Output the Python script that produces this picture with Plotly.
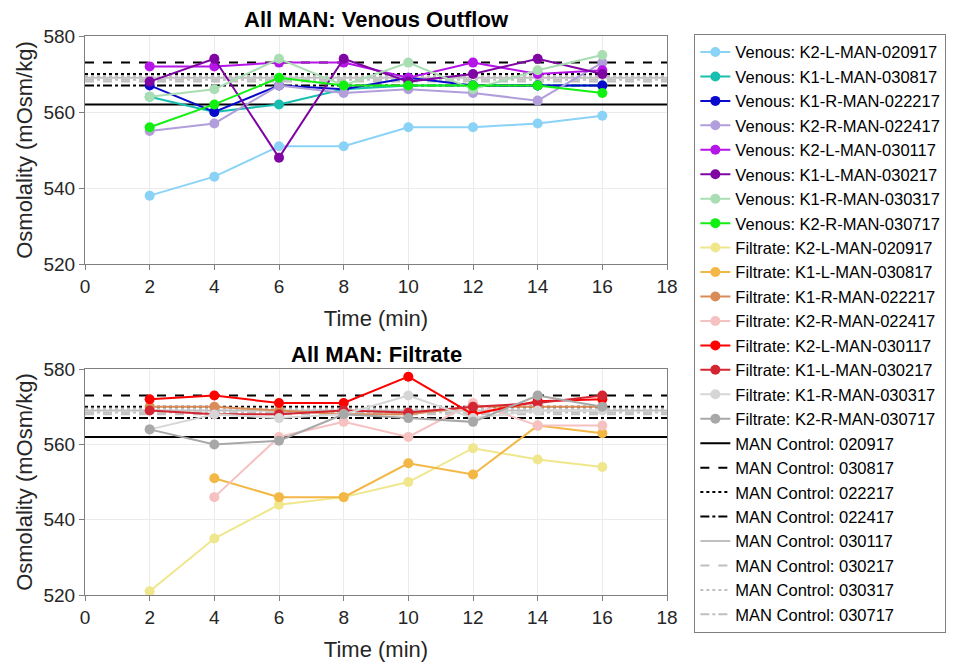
import plotly.graph_objects as go
from plotly.subplots import make_subplots

time = [2, 4, 6, 8, 10, 12, 14, 16]

venous_names = ["Venous: K2-L-MAN-020917", "Venous: K1-L-MAN-030817", "Venous: K1-R-MAN-022217",
                "Venous: K2-R-MAN-022417", "Venous: K2-L-MAN-030117", "Venous: K1-L-MAN-030217",
                "Venous: K1-R-MAN-030317", "Venous: K2-R-MAN-030717"]
venous_values = [
    [538, 543, 551, 551, 556, 556, 557, 559],
    [564, 560, 562, 566, 567, 567, 567, 567],
    [567, 560, 567, 566, 569, 567, 567, 567],
    [555, 557, 567, 565, 566, 565, 563, 573],
    [572, 572, 573, 573, 569, 573, 570, 571],
    [568, 574, 548, 574, 568, 570, 574, 570],
    [564, 566, 574, 567, 573, 566, 571, 575],
    [556, 562, 569, 567, 567, 567, 567, 565],
]
venous_colors = ["#8AD3F7", "#17BFAF", "#0A0ACD", "#B19EDB", "#B515E6", "#7F06A3", "#A9DDB2", "#12F012"]

filtrate_names = ["Filtrate: K2-L-MAN-020917", "Filtrate: K1-L-MAN-030817", "Filtrate: K1-R-MAN-022217",
                  "Filtrate: K2-R-MAN-022417", "Filtrate: K2-L-MAN-030117", "Filtrate: K1-L-MAN-030217",
                  "Filtrate: K1-R-MAN-030317", "Filtrate: K2-R-MAN-030717"]
filtrate_values = [
    [521, 535, 544, 546, 550, 559, 556, 554],
    [None, 551, 546, 546, 555, 552, 565, 563],
    [570, 570, 569, 568, 568, 570, 570, 570],
    [None, 546, 562, 566, 562, 571, 565, 565],
    [572, 573, 571, 571, 578, 568, 571.5, 572],
    [569, 568, 568, 569, 568.5, 570, 571, 573],
    [564, 568, 567, 568, 573, 567, 569, 569],
    [564, 560, 561, 568, 567, 566, 573, 570],
]
filtrate_colors = ["#F0E68C", "#F3B745", "#D98C57", "#F5C1C1", "#FF0000", "#D42532", "#D6D6D6", "#A8A8A8"]

control_names = ["MAN Control: 020917", "MAN Control: 030817", "MAN Control: 022217", "MAN Control: 022417",
                 "MAN Control: 030117", "MAN Control: 030217", "MAN Control: 030317", "MAN Control: 030717"]
control_values = [562, 573, 570, 567, 569, 568, 569.5, 568.5]
control_colors = ["#000000"] * 4 + ["#C0C0C0"] * 4
control_dashes = ["solid", "dash", "dot", "dashdot", "solid", "dash", "dot", "dashdot"]
x_range = [0, 18]

font_family = "Liberation Sans, Arial, sans-serif"

fig = make_subplots(rows=2, cols=1, vertical_spacing=0.1)

# controls first so they sit behind data
for i, (n, v, c, d) in enumerate(zip(control_names, control_values, control_colors, control_dashes)):
    for row in (1, 2):
        fig.add_trace(go.Scatter(x=x_range, y=[v, v], mode="lines", name=n,
                                 line=dict(color=c, width=2, dash=d),
                                 legendgroup=n, showlegend=(row == 1),
                                 legendrank=17 + i, hoverinfo="skip"), row=row, col=1)

for i, (n, v, c) in enumerate(zip(venous_names, venous_values, venous_colors)):
    fig.add_trace(go.Scatter(x=time, y=v, mode="lines+markers", name=n,
                             line=dict(color=c, width=2), marker=dict(color=c, size=10),
                             legendrank=1 + i), row=1, col=1)

for i, (n, v, c) in enumerate(zip(filtrate_names, filtrate_values, filtrate_colors)):
    fig.add_trace(go.Scatter(x=time, y=v, mode="lines+markers", name=n,
                             line=dict(color=c, width=2), marker=dict(color=c, size=10),
                             legendrank=9 + i, connectgaps=False), row=2, col=1)

axis_common = dict(showline=True, linecolor="#7F7F7F", linewidth=1, mirror=True,
                   showgrid=True, gridcolor="#EBEBEB", gridwidth=1, zeroline=False,
                   ticks="outside", ticklen=5, tickcolor="#7F7F7F",
                   tickfont=dict(size=19, color="#262626", family=font_family))

for r in (1, 2):
    fig.update_xaxes(range=[0, 18], dtick=2, tick0=0,
                     title=dict(text="Time (min)", font=dict(size=22, color="#262626", family=font_family), standoff=14),
                     row=r, col=1, **axis_common)
    fig.update_yaxes(range=[520, 580], dtick=20, tick0=520,
                     title=dict(text="Osmolality (mOsm/kg)", font=dict(size=22, color="#262626", family=font_family), standoff=4),
                     row=r, col=1, **axis_common)

# page body has an 8px margin; size the figure so the plot lands where the reference has it
fig.update_layout(
    width=956, height=659,
    margin=dict(l=77, r=297, t=28, b=72, autoexpand=False),
    paper_bgcolor="white", plot_bgcolor="white",
    font=dict(family=font_family, color="#262626"),
    xaxis=dict(domain=[0, 1]), yaxis=dict(domain=[0.592, 1.0]),
    xaxis2=dict(domain=[0, 1]), yaxis2=dict(domain=[0.0, 0.404]),
    legend=dict(x=1.047, y=1.004, xanchor="left", yanchor="top",
                bordercolor="#7F7F7F", borderwidth=1, bgcolor="white",
                font=dict(size=16.5, color="#000000", family=font_family),
                tracegroupgap=0, maxheight=0.99),
    showlegend=True,
    annotations=[
        dict(text="<b>All MAN: Venous Outflow</b>", x=0.5, y=1.0, xref="paper", yref="paper",
             xanchor="center", yanchor="bottom", yshift=2, showarrow=False,
             font=dict(size=22, color="#000000", family=font_family)),
        dict(text="<b>All MAN: Filtrate</b>", x=0.5, y=0.404, xref="paper", yref="paper",
             xanchor="center", yanchor="bottom", yshift=0, showarrow=False,
             font=dict(size=22, color="#000000", family=font_family)),
    ],
)

fig.write_html("out.html")
